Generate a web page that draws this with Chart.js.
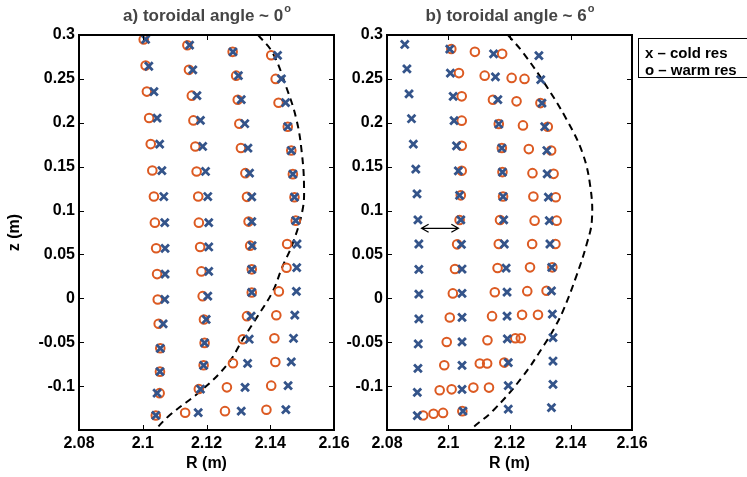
<!DOCTYPE html>
<html>
<head>
<meta charset="utf-8">
<script src="https://cdn.jsdelivr.net/npm/chart.js@4"></script>
<style>
body{margin:0;background:#fff}
#wrap{position:relative;width:747px;height:477px;overflow:hidden}
canvas{position:absolute;top:0}
</style>
</head>
<body>
<div id="wrap">
<canvas id="panelA" style="left:0" width="370" height="477"></canvas>
<canvas id="panelB" style="left:340px" width="407" height="477"></canvas>
</div>
<script>
const COLD = '#34548a'
const WARM = '#dc5a22'
const FONT = '"Liberation Sans", Arial, sans-serif'

const xTicks = [2.08, 2.1, 2.12, 2.14, 2.16]
const yMin = -0.15, yMax = 0.3

// panel a) toroidal angle ~ 0
const aColdR = [
2.1009,2.1019,2.1035,2.1045,2.1053,2.1060,2.1066,2.1069,2.1070,2.1070,2.1069,2.1064,2.1055,2.1054,2.1045,2.1041,
2.1147,2.1157,2.1170,2.1181,2.1188,2.1197,2.1204,2.1207,2.1207,2.1207,2.1204,2.1199,2.1194,2.1191,2.1181,2.1174,
2.1283,2.1300,2.1309,2.1320,2.1330,2.1335,2.1342,2.1342,2.1343,2.1342,2.1342,2.1340,2.1334,2.1329,2.1321,2.1309,
2.1423,2.1435,2.1448,2.1455,2.1466,2.1471,2.1476,2.1480,2.1484,2.1483,2.1482,2.1477,2.1473,2.1466,2.1456,2.1449]
const aColdZ = [
0.2950,0.2644,0.2355,0.2054,0.1757,0.1456,0.1160,0.0862,0.0570,0.0276,-0.0013,-0.0290,-0.0569,-0.0835,-0.1080,-0.1334,
0.2884,0.2603,0.2309,0.2027,0.1730,0.1445,0.1160,0.0862,0.0585,0.0307,0.0025,-0.0241,-0.0508,-0.0763,-0.1033,-0.1303,
0.2808,0.2537,0.2263,0.1989,0.1712,0.1426,0.1156,0.0874,0.0600,0.0330,0.0067,-0.0203,-0.0466,-0.0740,-0.1014,-0.1285,
0.2769,0.2500,0.2229,0.1955,0.1684,0.1415,0.1152,0.0885,0.0619,0.0349,0.0079,-0.0192,-0.0455,-0.0725,-0.0995,-0.1269]
const aWarmR = [
2.1003,2.1009,2.1013,2.1020,2.1025,2.1030,2.1035,2.1038,2.1042,2.1045,2.1047,2.1050,2.1055,2.1054,2.1053,2.1041,
2.1140,2.1145,2.1154,2.1159,2.1165,2.1169,2.1174,2.1176,2.1180,2.1184,2.1188,2.1192,2.1194,2.1191,2.1176,2.1133,
2.1282,2.1293,2.1298,2.1303,2.1308,2.1322,2.1327,2.1332,2.1337,2.1342,2.1342,2.1327,2.1314,2.1283,2.1264,2.1258,
2.1403,2.1417,2.1426,2.1455,2.1466,2.1471,2.1476,2.1480,2.1453,2.1451,2.1427,2.1419,2.1413,2.1416,2.1403,2.1388]
const aWarmZ = [
0.2950,0.2652,0.2355,0.2054,0.1757,0.1456,0.1160,0.0862,0.0570,0.0276,-0.0013,-0.0290,-0.0569,-0.0835,-0.1080,-0.1334,
0.2884,0.2603,0.2309,0.2027,0.1730,0.1445,0.1160,0.0862,0.0585,0.0307,0.0025,-0.0241,-0.0508,-0.0763,-0.1033,-0.1303,
0.2808,0.2537,0.2263,0.1989,0.1712,0.1426,0.1156,0.0874,0.0600,0.0330,0.0067,-0.0203,-0.0466,-0.0740,-0.1014,-0.1285,
0.2769,0.2500,0.2229,0.1955,0.1684,0.1415,0.1152,0.0885,0.0619,0.0349,0.0079,-0.0192,-0.0455,-0.0725,-0.0995,-0.1269]
const aEdgeR = [2.1362,2.1407,2.1449,2.1482,2.1499,2.1506,2.1501,2.1470,2.1437,2.1408,2.1361,2.1315,2.1268,2.1190,2.1085,2.1038]
const aEdgeZ = [0.300,0.280,0.242,0.204,0.166,0.127,0.100,0.062,0.035,0.008,-0.020,-0.046,-0.074,-0.103,-0.133,-0.150]

// panel b) toroidal angle ~ 6
const bColdR = [
2.0858,2.0865,2.0872,2.0880,2.0886,2.0894,2.0898,2.0901,2.0904,2.0904,2.0904,2.0904,2.0902,2.0901,2.0899,2.0899,
2.1005,2.1007,2.1016,2.1019,2.1027,2.1033,2.1037,2.1041,2.1043,2.1045,2.1045,2.1045,2.1045,2.1045,2.1045,2.1048,
2.1148,2.1154,2.1162,2.1165,2.1175,2.1177,2.1179,2.1181,2.1183,2.1189,2.1192,2.1192,2.1193,2.1196,2.1196,2.1196,
2.1296,2.1302,2.1306,2.1315,2.1322,2.1323,2.1327,2.1330,2.1332,2.1338,2.1337,2.1340,2.1342,2.1342,2.1342,2.1337]
const bColdZ = [
0.2892,0.2614,0.2329,0.2046,0.1757,0.1472,0.1190,0.0893,0.0619,0.0330,0.0048,-0.0234,-0.0520,-0.0797,-0.1071,-0.1337,
0.2840,0.2566,0.2301,0.2024,0.1738,0.1453,0.1173,0.0893,0.0615,0.0334,0.0056,-0.0218,-0.0497,-0.0763,-0.1037,-0.1285,
0.2785,0.2522,0.2263,0.1986,0.1712,0.1438,0.1160,0.0893,0.0619,0.0345,0.0070,-0.0203,-0.0462,-0.0732,-0.0995,-0.1262,
0.2766,0.2492,0.2224,0.1955,0.1684,0.1418,0.1152,0.0885,0.0619,0.0353,0.0086,-0.0181,-0.0447,-0.0714,-0.0980,-0.1246]
const bWarmR = [
2.1010,2.1087,2.1176,
2.1035,2.1119,2.1207,2.1249,
2.1044,2.1146,2.1223,2.1301,
2.1044,2.1165,2.1244,2.1325,
2.1044,2.1175,2.1263,2.1336,
2.1044,2.1177,2.1275,2.1344,
2.1041,2.1179,2.1278,2.1351,
2.1037,2.1169,2.1282,2.1354,
2.1029,2.1165,2.1274,2.1350,
2.1022,2.1161,2.1267,2.1340,
2.1015,2.1152,2.1258,2.1321,
2.1005,2.1143,2.1241,2.1293,
2.0995,2.1128,2.1219,2.1237,
2.0987,2.1103,2.1127,2.1183,
2.0972,2.1011,2.1082,2.1133,
2.0918,2.0952,2.0983,2.1046]
const bWarmZ = [
0.2840,0.2808,0.2785,
0.2566,0.2537,0.2511,0.2500,
0.2301,0.2263,0.2244,0.2224,
0.2024,0.1986,0.1970,0.1955,
0.1738,0.1712,0.1700,0.1684,
0.1453,0.1438,0.1426,0.1418,
0.1173,0.1160,0.1160,0.1152,
0.0893,0.0893,0.0885,0.0885,
0.0615,0.0619,0.0619,0.0619,
0.0334,0.0345,0.0353,0.0353,
0.0056,0.0070,0.0082,0.0086,
-0.0218,-0.0203,-0.0188,-0.0188,
-0.0497,-0.0477,-0.0455,-0.0455,
-0.0763,-0.0743,-0.0743,-0.0732,
-0.1048,-0.1037,-0.1017,-0.1017,
-0.1334,-0.1315,-0.1305,-0.1285]
const bEdgeR = [2.1195,2.1244,2.1320,2.1386,2.1438,2.1464,2.1469,2.1453,2.1418,2.1375,2.1348,2.1315,2.1241,2.1146,2.1081,2.1072]
const bEdgeZ = [0.300,0.280,0.242,0.204,0.166,0.127,0.089,0.063,0.025,-0.014,-0.033,-0.052,-0.090,-0.128,-0.147,-0.150]

// distance arrow in panel b
const arrowR = [2.0913, 2.1033]
const arrowZ = 0.0798

function pts(r, z){
	return r.map(function(v, i){ return {x: v, y: z[i]} })
}

//box, inward ticks, panel title, legend and arrow
const frame = {
	id: 'frame',
	afterDraw(chart, args, o){
		const ctx = chart.ctx
		const a = chart.chartArea
		const x = chart.scales.x, y = chart.scales.y
		ctx.save()
		ctx.strokeStyle = '#000'
		ctx.lineWidth = 1
		ctx.beginPath()
		x.ticks.forEach(function(t){
			const p = Math.round(x.getPixelForValue(t.value)) + 0.5
			ctx.moveTo(p, a.bottom); ctx.lineTo(p, a.bottom - 5)
			ctx.moveTo(p, a.top); ctx.lineTo(p, a.top + 5)
		})
		y.ticks.forEach(function(t){
			const p = Math.round(y.getPixelForValue(t.value)) + 0.5
			ctx.moveTo(a.left, p); ctx.lineTo(a.left + 5, p)
			ctx.moveTo(a.right, p); ctx.lineTo(a.right - 5, p)
		})
		ctx.stroke()
		ctx.lineWidth = 2
		ctx.strokeRect(a.left, a.top, a.right - a.left, a.bottom - a.top)

		// title with superscript degree
		ctx.fillStyle = '#454545'
		const f1 = 'bold 17px ' + FONT, f2 = 'bold 11px ' + FONT
		ctx.font = f1
		const w1 = ctx.measureText(o.title).width
		ctx.font = f2
		const w2 = ctx.measureText('o').width
		const sx = (a.left + a.right) / 2 - (w1 + w2) / 2
		ctx.textBaseline = 'alphabetic'
		ctx.font = f1
		ctx.fillText(o.title, sx, 21)
		ctx.font = f2
		ctx.fillText('o', sx + w1 + 1, 12)

		if(o.legend){
			ctx.lineWidth = 1
			ctx.strokeRect(a.right + 6.5, 38.5, 200, 39)
			ctx.fillStyle = '#000'
			ctx.font = 'bold 15px ' + FONT
			ctx.fillText('x \u2013 cold res', a.right + 13, 58)
			ctx.fillText('o \u2013 warm res', a.right + 13, 75)
		}

		if(o.arrow){
			const x1 = x.getPixelForValue(arrowR[0]), x2 = x.getPixelForValue(arrowR[1])
			const py = y.getPixelForValue(arrowZ)
			ctx.lineWidth = 1.3
			ctx.beginPath()
			ctx.moveTo(x1, py); ctx.lineTo(x2, py)
			ctx.moveTo(x1 + 7, py - 4); ctx.lineTo(x1, py); ctx.lineTo(x1 + 7, py + 4)
			ctx.moveTo(x2 - 7, py - 4); ctx.lineTo(x2, py); ctx.lineTo(x2 - 7, py + 4)
			ctx.stroke()
		}
		ctx.restore()
	}
}

function tickText(v){
	if(Math.abs(v - yMin) < 1e-6) return ''
	return String(+v.toFixed(2))
}

function makePanel(id, cold, warm, edge, o){
	return new Chart(document.getElementById(id), {
		type: 'scatter',
		data: {
			datasets: [
				{label: 'cold res', data: cold, pointStyle: 'crossRot', pointRadius: 5.5, borderColor: COLD, backgroundColor: COLD, pointBorderWidth: 2.8},
				{label: 'warm res', data: warm, pointStyle: 'circle', pointRadius: 4.3, borderColor: WARM, backgroundColor: 'rgba(0,0,0,0)', pointBorderWidth: 2},
				{label: 'edge', data: edge, showLine: true, pointRadius: 0, borderColor: '#000', borderWidth: 2, borderDash: [7, 5], tension: 0.4, fill: false}
			]
		},
		options: {
			responsive: false,
			animation: false,
			events: [],
			layout: {padding: {top: 35, right: o.padRight, left: 0, bottom: 0}},
			plugins: {
				legend: {display: false},
				tooltip: {enabled: false},
				frame: o
			},
			scales: {
				x: {
					type: 'linear', min: xTicks[0], max: xTicks[xTicks.length - 1],
					afterBuildTicks: function(s){ s.ticks = xTicks.map(function(v){ return {value: v} }) },
					ticks: {padding: 4, color: '#000', font: {family: FONT, size: 16, weight: 'bold'}, callback: tickText, maxRotation: 0},
					grid: {display: false, drawTicks: false},
					border: {display: false},
					title: {display: true, text: 'R (m)', color: '#000', padding: {top: 0, bottom: 4}, font: {family: FONT, size: 16, weight: 'bold'}},
					afterFit: function(s){ s.height = 47 }
				},
				y: {
					type: 'linear', min: yMin, max: yMax,
					ticks: {stepSize: 0.05, padding: 4, color: '#000', font: {family: FONT, size: 16, weight: 'bold'}, callback: tickText},
					grid: {display: false, drawTicks: false},
					border: {display: false},
					title: {display: o.yTitle, text: 'z (m)', color: '#000', padding: {top: 5, bottom: 0}, font: {family: FONT, size: 16, weight: 'bold'}},
					afterFit: function(s){ s.width = o.yWidth }
				}
			}
		},
		plugins: [frame]
	})
}

makePanel('panelA', pts(aColdR, aColdZ), pts(aWarmR, aWarmZ), pts(aEdgeR, aEdgeZ),
	{title: 'a) toroidal angle ~ 0', yTitle: true, yWidth: 79, padRight: 36, legend: false, arrow: false})
makePanel('panelB', pts(bColdR, bColdZ), pts(bWarmR, bWarmZ), pts(bEdgeR, bEdgeZ),
	{title: 'b) toroidal angle ~ 6', yTitle: false, yWidth: 47, padRight: 115, legend: true, arrow: true})
</script>
</body>
</html>
